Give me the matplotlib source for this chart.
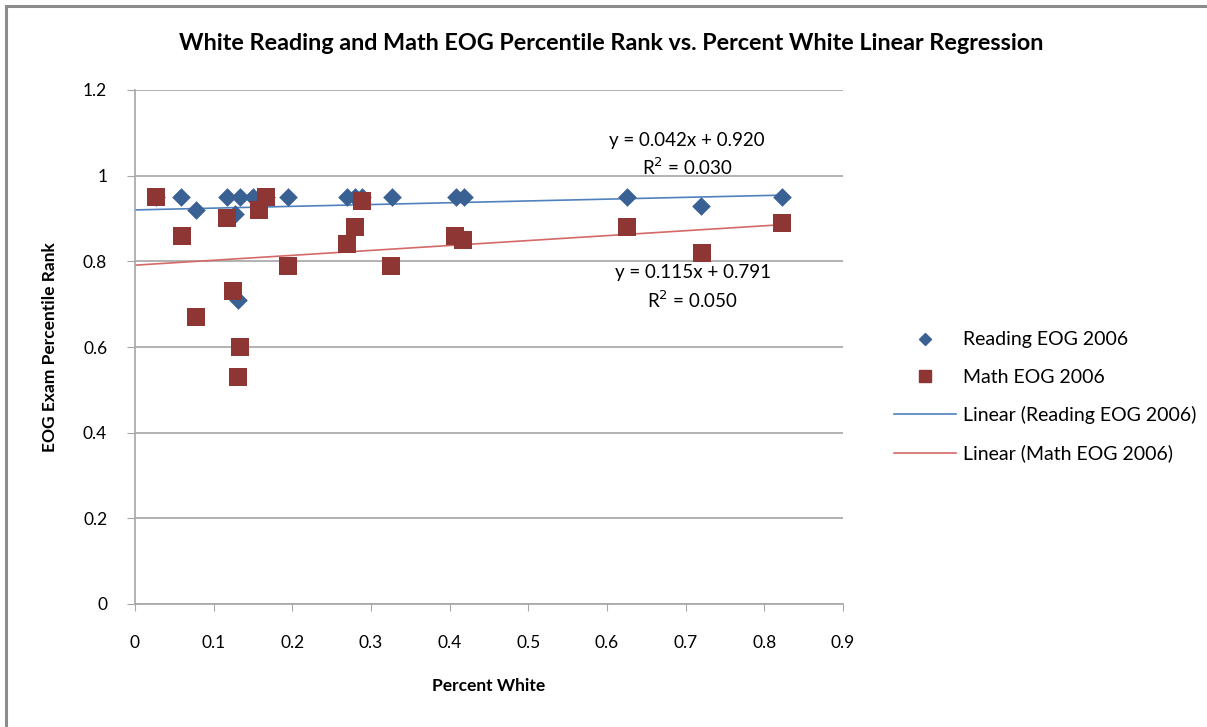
import matplotlib
matplotlib.use("Agg")
import matplotlib.pyplot as plt
from matplotlib.lines import Line2D
import numpy as np

plt.rcParams['font.family'] = ['Lato', 'DejaVu Sans']

# Data
reading_x = [0.027, 0.059, 0.0775, 0.1165, 0.127, 0.131, 0.1335, 0.150, 0.1665,
             0.195, 0.269, 0.2796, 0.288, 0.327, 0.408, 0.418, 0.625, 0.720, 0.823]
reading_y = [0.95, 0.95, 0.92, 0.95, 0.91, 0.71, 0.95, 0.95, 0.95,
             0.95, 0.95, 0.95, 0.95, 0.95, 0.95, 0.95, 0.95, 0.93, 0.95]
math_x = [0.027, 0.060, 0.0775, 0.1165, 0.125, 0.131, 0.1335, 0.157, 0.1665,
          0.195, 0.270, 0.2796, 0.289, 0.326, 0.407, 0.417, 0.625, 0.721, 0.823]
math_y = [0.95, 0.86, 0.67, 0.90, 0.73, 0.53, 0.60, 0.92, 0.95,
          0.79, 0.84, 0.88, 0.94, 0.79, 0.86, 0.85, 0.88, 0.82, 0.89]

# Trendline coefficients (slope, intercept) and R^2 as shown
reading_fit = [0.042, 0.920]
reading_r2 = 0.030
math_fit = [0.115, 0.791]
math_r2 = 0.050

x_ticks = [0, 0.1, 0.2, 0.3, 0.4, 0.5, 0.6, 0.7, 0.8, 0.9]
y_ticks = [0, 0.2, 0.4, 0.6, 0.8, 1.0, 1.2]
x_tick_labels = ['0', '0.1', '0.2', '0.3', '0.4', '0.5', '0.6', '0.7', '0.8', '0.9']
y_tick_labels = ['0', '0.2', '0.4', '0.6', '0.8', '1', '1.2']

blue_marker = '#3A6193'
red_marker = '#8E3633'
blue_line = '#4F81BD'
red_line = '#D46A68'
grid_col = '#A6A6A6'

fig = plt.figure(figsize=(12.07, 7.27), dpi=100)
ax = fig.add_axes([135/1207, 1-604/727, (843-135)/1207, (604-90)/727])

# Outer chart border (left and top edges visible)
bx = 6/1207
by = 1 - 6/727
fig.add_artist(Line2D([bx, 1.0], [by, by], transform=fig.transFigure,
                      color='#8C8C8C', linewidth=2.2, solid_capstyle='butt'))
fig.add_artist(Line2D([bx, bx], [0.0, by], transform=fig.transFigure,
                      color='#8C8C8C', linewidth=2.2, solid_capstyle='projecting'))

ax.set_xlim(0, 0.9)
ax.set_ylim(0, 1.2)
ax.set_yticks(y_ticks)
ax.set_yticklabels(y_tick_labels)
ax.set_xticks(x_ticks)
ax.set_xticklabels(x_tick_labels)
ax.yaxis.grid(True, color=grid_col, linewidth=1.2)
ax.set_axisbelow(True)
for s in ['top', 'right']:
    ax.spines[s].set_visible(False)
for s in ['left', 'bottom']:
    ax.spines[s].set_color(grid_col)
    ax.spines[s].set_linewidth(1.2)
ax.tick_params(axis='y', direction='out', length=6, color=grid_col, labelsize=12.5, pad=14)
ax.tick_params(axis='x', direction='out', length=5, color=grid_col, labelsize=12.5, pad=17)

# Trendlines
xr = np.array([0, max(reading_x)])
xm = np.array([0, max(math_x)])
ax.plot(xr, reading_fit[0]*xr + reading_fit[1], color=blue_line, lw=1.2, zorder=2)
ax.plot(xm, math_fit[0]*xm + math_fit[1], color=red_line, lw=1.2, zorder=2)

ax.scatter(reading_x, reading_y, marker='D', s=9.5**2, color=blue_marker, zorder=3, linewidths=0)
ax.scatter(math_x, math_y, marker='s', s=13.5**2, color=red_marker, zorder=4, linewidths=0)

ann_fs = 13.5
ax.text(0.7017, 1.081, 'y = %.3fx + %.3f' % (reading_fit[0], reading_fit[1]),
        ha='center', va='center', fontsize=ann_fs)
ax.text(0.7017, 1.020, 'R$^2$ = %.3f' % reading_r2, ha='center', va='center', fontsize=ann_fs)
ax.text(0.709, 0.775, 'y = %.3fx + %.3f' % (math_fit[0], math_fit[1]),
        ha='center', va='center', fontsize=ann_fs)
ax.text(0.709, 0.710, 'R$^2$ = %.3f' % math_r2, ha='center', va='center', fontsize=ann_fs)

fig.text(611/1207, 1-44/727, 'White Reading and Math EOG Percentile Rank vs. Percent White Linear Regression',
         ha='center', va='center', fontsize=16.8, fontweight='bold')
ax.set_xlabel('Percent White', fontsize=12.5, fontweight='bold', labelpad=20)
ax.set_ylabel('EOG Exam Percentile Rank', fontsize=12.5, fontweight='bold', labelpad=18)

handles = [
    Line2D([], [], marker='D', color=blue_marker, linestyle='none', markersize=6.5),
    Line2D([], [], marker='s', color=red_marker, linestyle='none', markersize=8),
    Line2D([], [], color=blue_line, lw=1.2),
    Line2D([], [], color=red_line, lw=1.2),
]
labels = ['Reading EOG 2006', 'Math EOG 2006', 'Linear (Reading EOG 2006)', 'Linear (Math EOG 2006)']
fig.legend(handles, labels, loc='center left', bbox_to_anchor=(876/1207, 1-397/727),
           frameon=False, fontsize=14, labelspacing=1.05, handlelength=3.2, handletextpad=0.35)

fig.savefig('out.png', dpi=100)
